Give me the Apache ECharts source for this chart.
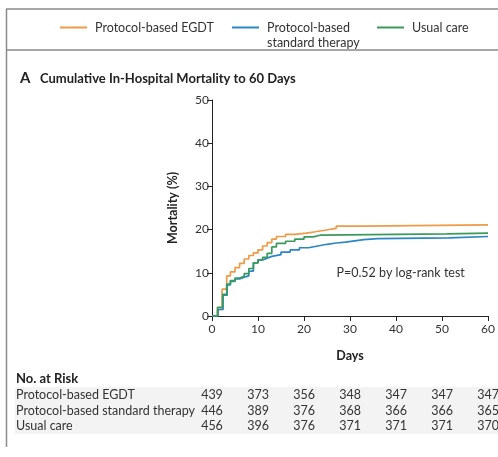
<!DOCTYPE html>
<html>
<head>
<meta charset="utf-8">
<script src="https://cdn.jsdelivr.net/npm/echarts@6/dist/echarts.min.js"></script>
<style>
  html, body { margin: 0; padding: 0; background: #fff; }
  #chart { width: 498px; height: 457px; }
</style>
</head>
<body>
<div id="chart"></div>
<script>
// 曲线数据 (天数, 死亡率%)
var egdtDays = [0, 1.2, 2.2, 3.2, 4, 5, 6, 7, 8, 9, 10, 11, 12, 13, 14, 16, 18, 20.5, 22.5, 24.8, 27, 33, 60];
var egdtVals = [0, 1.5, 6.2, 9.3, 10.2, 11.2, 12.2, 13.2, 14.0, 14.6, 15.3, 16.2, 17.0, 17.8, 18.4, 18.9, 19.2, 19.5, 19.9, 20.3, 20.8, 21.1, 21.1];

var stdDays = [0, 1.3, 2.4, 3.3, 4, 5, 6, 7, 8, 9, 10, 11, 12, 13, 15, 17, 19, 21, 23, 25, 27, 29, 31, 33, 36, 51.5, 60];
var stdVals = [0, 1.5, 4.8, 7.2, 8.0, 8.6, 9.0, 9.3, 10.4, 12.3, 13.0, 13.4, 13.8, 14.2, 14.8, 15.3, 15.8, 16.2, 16.6, 16.9, 17.1, 17.4, 17.7, 17.9, 18.1, 18.4, 18.4];

var usualDays = [0, 1.2, 2.3, 3.2, 4, 5, 6, 7, 8, 9, 10, 11, 12, 13, 14, 16, 18, 20, 22, 23.5, 51, 60];
var usualVals = [0, 2.0, 5.0, 7.4, 8.2, 8.8, 9.2, 9.8, 11.0, 12.3, 13.0, 13.6, 14.5, 16.0, 16.8, 17.3, 17.8, 18.3, 18.7, 19.0, 19.2, 19.2];

// 风险人数表
var riskDays = [0, 10, 20, 30, 40, 50, 60];
var riskNames = ['Protocol-based EGDT', 'Protocol-based standard therapy', 'Usual care'];
var riskEgdt = [439, 373, 356, 348, 347, 347, 347];
var riskStd = [446, 389, 376, 368, 366, 366, 365];
var riskUsual = [456, 396, 376, 371, 371, 371, 370];

var seriesNames = ['Protocol-based EGDT', 'Protocol-based standard therapy', 'Usual care'];
var colors = ['#ef9a45', '#2b86c4', '#3a9a5a'];

var FONT = 'Lato, sans-serif';

function pairs(xs, ys) {
    var out = [];
    for (var i = 0; i < xs.length; i++) {
        out.push([xs[i], ys[i]]);
    }
    return out;
}

var chart = echarts.init(document.getElementById('chart'));

function lineSeries(name, data, color) {
    return {
        name: name,
        type: 'line',
        step: 'end',
        data: data,
        symbol: 'none',
        lineStyle: { color: color, width: 1.7 },
        itemStyle: { color: color },
        animation: false
    };
}

function legendItem(name, left) {
    return {
        data: [name],
        left: left,
        top: 21,
        padding: 0,
        icon: 'rect',
        itemWidth: 27,
        itemHeight: 2,
        selectedMode: false,
        formatter: function (n) {
            return n === 'Protocol-based standard therapy' ? 'Protocol-based' : n;
        },
        textStyle: { fontFamily: FONT, fontSize: 12.5, color: '#333', padding: [0, 0, 0, 3] }
    };
}

var option = {
    backgroundColor: '#fff',
    animation: false,
    textStyle: { fontFamily: FONT },
    legend: [
        legendItem(seriesNames[0], 60),
        legendItem(seriesNames[1], 232),
        legendItem(seriesNames[2], 377)
    ],
    grid: { left: 212, right: 9, top: 100, bottom: 141, containLabel: false },
    xAxis: {
        type: 'value',
        min: 0, max: 60, interval: 10,
        name: 'Days',
        nameLocation: 'middle',
        nameGap: 33,
        nameTextStyle: { fontFamily: FONT, fontWeight: 'bold', fontSize: 12.5, color: '#222' },
        axisLine: { lineStyle: { color: '#222', width: 1 } },
        axisTick: { length: 5, lineStyle: { color: '#222' } },
        axisLabel: { fontFamily: FONT, fontSize: 12, color: '#333', margin: 7 },
        splitLine: { show: false }
    },
    yAxis: {
        type: 'value',
        min: 0, max: 50, interval: 10,
        name: 'Mortality (%)',
        nameLocation: 'middle',
        nameGap: 33,
        nameTextStyle: { fontFamily: FONT, fontWeight: 'bold', fontSize: 12.5, color: '#222' },
        axisLine: { show: true, lineStyle: { color: '#222', width: 1 } },
        axisTick: { show: true, length: 5, lineStyle: { color: '#222' } },
        axisLabel: { fontFamily: FONT, fontSize: 12, color: '#333', margin: 3 },
        splitLine: { show: false }
    },
    series: [
        lineSeries(seriesNames[0], pairs(egdtDays, egdtVals), colors[0]),
        lineSeries(seriesNames[1], pairs(stdDays, stdVals), colors[1]),
        lineSeries(seriesNames[2], pairs(usualDays, usualVals), colors[2])
    ]
};
chart.setOption(option);

// 边框、标题、风险表
var g = [];
g.push({ type: 'line', shape: { x1: 6, y1: 9, x2: 498, y2: 9 }, style: { stroke: '#8a8a8a', lineWidth: 1.5 } });
g.push({ type: 'line', shape: { x1: 6.5, y1: 9, x2: 6.5, y2: 447 }, style: { stroke: '#8a8a8a', lineWidth: 1.5 } });
g.push({ type: 'line', shape: { x1: 6, y1: 50, x2: 498, y2: 50 }, style: { stroke: '#8a8a8a', lineWidth: 1.5 } });
g.push({ type: 'text', x: 267, y: 42.5, style: { text: 'standard therapy', font: '12.5px ' + FONT, fill: '#333', verticalAlign: 'middle' } });
g.push({ type: 'text', left: 20, top: 71, style: { text: 'A', font: 'bold 15px ' + FONT, fill: '#222' } });
g.push({ type: 'text', left: 40, top: 72, style: { text: 'Cumulative In-Hospital Mortality to 60 Days', font: 'bold 13px ' + FONT, fill: '#222' } });

var pText = chart.convertToPixel({ gridIndex: 0 }, [41, 10]);
g.push({ type: 'text', x: pText[0], y: pText[1], style: { text: 'P=0.52 by log-rank test', font: '12.5px ' + FONT, fill: '#333', align: 'center', verticalAlign: 'middle' } });

g.push({ type: 'text', x: 16, y: 379, style: { text: 'No. at Risk', font: 'bold 13px ' + FONT, fill: '#222', verticalAlign: 'middle' } });
g.push({ type: 'rect', shape: { x: 15, y: 387, width: 483, height: 47 }, style: { fill: '#f3f3f3' }, z: -1 });

var riskRows = [riskEgdt, riskStd, riskUsual];
var rowY = [395, 411, 426];
for (var r = 0; r < riskRows.length; r++) {
    g.push({ type: 'text', x: 16, y: rowY[r], style: { text: riskNames[r], font: '12.5px ' + FONT, fill: '#333', verticalAlign: 'middle' } });
    for (var c = 0; c < riskDays.length; c++) {
        var px = chart.convertToPixel({ gridIndex: 0 }, [riskDays[c], 0]);
        g.push({ type: 'text', x: px[0], y: rowY[r], style: { text: String(riskRows[r][c]), font: '12.5px ' + FONT, fill: '#333', align: 'center', verticalAlign: 'middle' } });
    }
}
chart.setOption({ graphic: g });
</script>
</body>
</html>
